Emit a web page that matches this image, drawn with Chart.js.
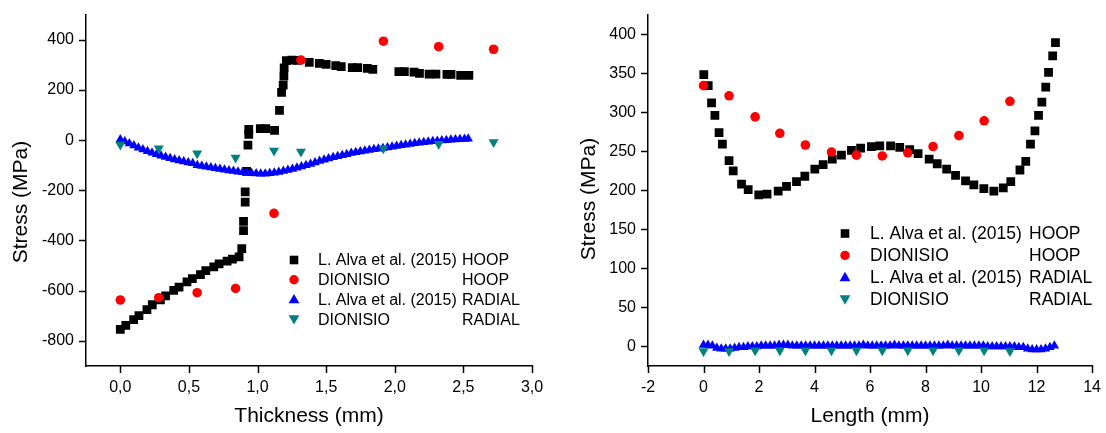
<!DOCTYPE html>
<html>
<head>
<meta charset="utf-8">
<script src="https://cdn.jsdelivr.net/npm/chart.js@4.4.0/dist/chart.umd.min.js"></script>
<style>
    html, body { margin: 0; padding: 0; background: #fff; }
    body { width: 1106px; height: 433px; overflow: hidden; display: flex; }
    canvas { display: block; }
</style>
</head>
<body>
<canvas id="thicknessChart" width="553" height="433"></canvas>
<canvas id="lengthChart" width="553" height="433"></canvas>
<script>
// ---- Thickness (left) ----
const thkHoopAlvaX = [0, 0.04, 0.097, 0.136, 0.194, 0.233, 0.292, 0.33, 0.389, 0.428, 0.486, 0.525, 0.584, 0.623, 0.681, 0.72, 0.778, 0.817, 0.866, 0.885, 0.898, 0.898, 0.91, 0.91, 0.92, 0.93, 0.936, 0.936, 1.02, 1.06, 1.124, 1.16, 1.175, 1.187, 1.192, 1.194, 1.21, 1.25, 1.29, 1.377, 1.45, 1.5, 1.57, 1.61, 1.69, 1.73, 1.8, 1.84, 2.03, 2.07, 2.14, 2.18, 2.25, 2.3, 2.38, 2.41, 2.48, 2.54];
const thkHoopAlvaY = [-754, -738, -715, -699, -675, -656, -637, -621, -599, -586, -565, -552, -536, -520, -505, -493, -482, -474, -465, -432, -361, -324, -247, -206, -125, -20, 23, 43, 46, 46, 39, 118, 190, 219, 255, 288, 317, 319, 318, 310, 306, 302, 297, 293, 289, 289, 286, 282, 273, 273, 271, 266, 263, 263, 262, 262, 258, 258];

const thkDionX = [0, 0.28, 0.56, 0.84, 1.12, 1.316, 1.917, 2.32, 2.72];
const thkHoopDionY = [-637, -628, -608, -591, -292, 319, 394, 372, 362];
const thkRadialDionY = [-18, -33, -53, -70, -42, -46, -33, -15, -8];

const thkRadialAlvaX = [0, 0.033, 0.066, 0.099, 0.132, 0.165, 0.198, 0.231, 0.264, 0.297, 0.33, 0.363, 0.396, 0.429, 0.462, 0.495, 0.528, 0.561, 0.594, 0.627, 0.66, 0.693, 0.726, 0.759, 0.792, 0.825, 0.858, 0.891, 0.924, 0.957, 0.99, 1.023, 1.056, 1.089, 1.122, 1.155, 1.188, 1.221, 1.254, 1.287, 1.32, 1.353, 1.386, 1.419, 1.452, 1.485, 1.518, 1.551, 1.584, 1.617, 1.65, 1.683, 1.716, 1.749, 1.782, 1.815, 1.848, 1.881, 1.914, 1.947, 1.98, 2.013, 2.046, 2.079, 2.112, 2.145, 2.178, 2.211, 2.244, 2.277, 2.31, 2.343, 2.376, 2.409, 2.442, 2.475, 2.508, 2.535];
const thkRadialAlvaY = [2, -6, -14, -22, -30, -37, -44, -50, -56, -62, -67, -72, -77, -81, -85, -89, -92, -100, -103, -106, -109, -112, -115, -118, -121, -123, -126, -128, -130, -132, -133, -134, -134, -132, -130, -127, -123, -119, -115, -110, -105, -100, -95, -89, -83, -78, -73, -68, -64, -60, -56, -51, -48, -45, -42, -39, -36, -34, -32, -29, -26, -24, -21, -19, -16, -13, -11, -9, -7, -5, -4, -2, -1, 1, 2, 3, 4, 5];

// ---- Length (right) ----
const lenHoopAlvaX = [0.01, 0.17, 0.29, 0.41, 0.56, 0.68, 0.92, 1.07, 1.37, 1.61, 1.99, 2.29, 2.69, 2.99, 3.35, 3.65, 4.01, 4.31, 4.64, 4.97, 5.33, 5.66, 6.05, 6.35, 6.74, 7.07, 7.43, 7.73, 8.13, 8.42, 8.76, 9.08, 9.44, 9.74, 10.1, 10.46, 10.8, 11.07, 11.4, 11.61, 11.78, 11.94, 12.07, 12.19, 12.33, 12.43, 12.58, 12.68];
const lenHoopAlvaY = [348, 334, 312, 296, 274, 259, 238, 225, 208, 201, 194, 195, 199, 205, 211, 218, 227, 233, 240, 245, 251, 254, 256, 257, 257, 255, 252, 247, 240, 234, 227, 219, 212, 207, 202, 199, 203, 211, 226, 237, 259, 276, 296, 313, 332, 351, 372, 389];

const lenDionX = [0, 0.92, 1.86, 2.75, 3.67, 4.61, 5.51, 6.44, 7.36, 8.27, 9.2, 10.11, 11.04];
const lenHoopDionY = [334, 321, 294, 273, 258, 249, 245, 244, 248, 256, 270, 289, 314];
const lenRadialDionY = [-6, -6, -5, -5, -5, -5, -5, -5, -5, -5, -5, -5, -6];

const lenRadialAlvaX = [0, 0.16, 0.32, 0.48, 0.64, 0.8, 0.96, 1.12, 1.28, 1.44, 1.6, 1.76, 1.92, 2.08, 2.24, 2.4, 2.56, 2.72, 2.88, 3.04, 3.2, 3.36, 3.52, 3.68, 3.84, 4, 4.16, 4.32, 4.48, 4.64, 4.8, 4.96, 5.12, 5.28, 5.44, 5.6, 5.76, 5.92, 6.08, 6.24, 6.4, 6.56, 6.72, 6.88, 7.04, 7.2, 7.36, 7.52, 7.68, 7.84, 8, 8.16, 8.32, 8.48, 8.64, 8.8, 8.96, 9.12, 9.28, 9.44, 9.6, 9.76, 9.92, 10.08, 10.24, 10.4, 10.56, 10.72, 10.88, 11.04, 11.2, 11.36, 11.52, 11.68, 11.84, 12, 12.16, 12.32, 12.48, 12.64];
const lenRadialAlvaY = [2, 2, 1, -2, -3, -3, -3, -2, -1, -1, 0, 0, 0, 1, 1, 1, 1, 2, 2, 2, 1, 1, 1, 1, 1, 1, 1, 1, 1, 1, 1, 1, 1, 1, 1, 1, 2, 1, 1, 1, 1, 1, 1, 2, 1, 1, 1, 1, 1, 1, 1, 1, 1, 1, 1, 2, 1, 1, 1, 1, 1, 1, 1, 1, 0, 0, 0, 0, 0, 0, 0, -1, -1, -3, -4, -4, -4, -3, -1, 1];

const legendNames = ['L. Alva et al. (2015)', 'DIONISIO', 'L. Alva et al. (2015)', 'DIONISIO'];
const legendKinds = ['HOOP', 'HOOP', 'RADIAL', 'RADIAL'];
const markerColors = ['#000000', '#ff0000', '#0000ff', '#008080'];

const FONT = "'Liberation Sans', Arial, sans-serif";

const toPoints = (xs, ys) => xs.map((x, i) => ({ x, y: ys[i] }));

function drawSymbol(ctx, kind, x, y, color) {
    ctx.fillStyle = color;
    ctx.beginPath();
    if (kind === 0) {
        ctx.rect(x - 4.3, y - 4.3, 8.6, 8.6);
    } else if (kind === 1) {
        ctx.arc(x, y, 4.7, 0, Math.PI * 2);
    } else if (kind === 2) {
        ctx.moveTo(x, y - 5.5); ctx.lineTo(x + 5.4, y + 3.9); ctx.lineTo(x - 5.4, y + 3.9);
    } else {
        ctx.moveTo(x, y + 5.5); ctx.lineTo(x + 5.4, y - 3.9); ctx.lineTo(x - 5.4, y - 3.9);
    }
    ctx.closePath();
    ctx.fill();
}

// ticks (major/minor), axis titles, two-column legend
const decorPlugin = {
    id: 'decor',
    afterDraw(chart, args, o) {
        const ctx = chart.ctx;
        const area = chart.chartArea;
        const xs = chart.scales.x;
        const ys = chart.scales.y;
        ctx.save();
        ctx.strokeStyle = '#000';
        ctx.lineWidth = 1.5;
        xs.ticks.forEach(t => {
            const px = Math.round(xs.getPixelForValue(t.value)) + 0.5;
            const len = (t.label !== null && t.label !== '') ? 7 : 4;
            ctx.beginPath(); ctx.moveTo(px, area.bottom); ctx.lineTo(px, area.bottom + len); ctx.stroke();
        });
        ys.ticks.forEach(t => {
            const py = Math.round(ys.getPixelForValue(t.value)) + 0.5;
            const len = (t.label !== null && t.label !== '') ? 7 : 4;
            ctx.beginPath(); ctx.moveTo(area.left, py); ctx.lineTo(area.left - len, py); ctx.stroke();
        });

        ctx.fillStyle = '#000';
        ctx.font = '21px ' + FONT;
        ctx.textAlign = 'center';
        ctx.textBaseline = 'alphabetic';
        ctx.fillText(o.xTitle, (area.left + area.right) / 2, o.xTitleY);
        ctx.save();
        ctx.translate(o.yTitleX, o.yTitleY);
        ctx.rotate(-Math.PI / 2);
        ctx.fillText(o.yTitle, 0, 0);
        ctx.restore();

        const lg = o.legend;
        ctx.font = lg.size + 'px ' + FONT;
        ctx.textAlign = 'left';
        ctx.textBaseline = 'middle';
        legendNames.forEach((name, i) => {
            const y = lg.y + i * lg.rowH;
            drawSymbol(ctx, i, lg.symX, y, markerColors[i]);
            ctx.fillStyle = '#000';
            ctx.fillText(name, lg.textX, y + 1);
            ctx.fillText(legendKinds[i], lg.col2X, y + 1);
        });
        ctx.restore();
    }
};

function buildDatasets(hoopAlva, hoopDion, radialAlva, radialDion) {
    return [
        { data: hoopAlva, pointStyle: 'rect', pointRadius: 6.2, backgroundColor: markerColors[0], order: 4 },
        { data: hoopDion, pointStyle: 'circle', pointRadius: 4.8, backgroundColor: markerColors[1], order: 3 },
        { data: radialAlva, pointStyle: 'triangle', pointRadius: 5.5, backgroundColor: markerColors[2], order: 2 },
        { data: radialDion, pointStyle: 'triangle', pointRotation: 180, pointRadius: 5.8, backgroundColor: markerColors[3], order: 1 }
    ].map(d => Object.assign(d, { showLine: false, pointBorderWidth: 0, borderWidth: 0, pointHoverRadius: d.pointRadius }));
}

function axisOptions(min, max, step, labelFn, fitFn) {
    return {
        type: 'linear',
        min: min,
        max: max,
        afterFit: fitFn,
        border: { display: true, color: '#000', width: 1.5 },
        grid: { display: true, drawOnChartArea: false, drawTicks: true, tickLength: 7, color: 'rgba(0,0,0,0)' },
        ticks: {
            stepSize: step,
            autoSkip: false,
            maxRotation: 0,
            minRotation: 0,
            padding: 5,
            color: '#000',
            font: { family: FONT, size: 16 },
            callback: labelFn
        }
    };
}

function makeChart(id, datasets, xAxis, yAxis, padRight, padTop, decor) {
    return new Chart(document.getElementById(id), {
        type: 'scatter',
        data: { datasets },
        options: {
            responsive: false,
            animation: false,
            events: [],
            layout: { padding: { left: 0, right: padRight, top: padTop, bottom: 0 } },
            plugins: { legend: { display: false }, tooltip: { enabled: false }, decor: decor },
            scales: { x: xAxis, y: yAxis }
        },
        plugins: [decorPlugin]
    });
}

makeChart('thicknessChart',
    buildDatasets(
        toPoints(thkHoopAlvaX, thkHoopAlvaY),
        toPoints(thkDionX, thkHoopDionY),
        toPoints(thkRadialAlvaX, thkRadialAlvaY),
        toPoints(thkDionX, thkRadialDionY)),
    axisOptions(-0.25, 3.0, 0.25,
        v => (Math.abs(v * 2 - Math.round(v * 2)) < 1e-6 ? v.toFixed(1).replace('.', ',') : null),
        s => { s.height = 67; }),
    axisOptions(-900, 500, 100,
        v => (v % 200 === 0 ? String(v) : null),
        s => { s.width = 86; }),
    21, 8,
    {
        xTitle: 'Thickness (mm)', xTitleY: 422,
        yTitle: 'Stress (MPa)', yTitleX: 27, yTitleY: 202,
        legend: { y: 260, rowH: 19.7, symX: 294, textX: 318, col2X: 462, size: 16 }
    });

makeChart('lengthChart',
    buildDatasets(
        toPoints(lenHoopAlvaX, lenHoopAlvaY),
        toPoints(lenDionX, lenHoopDionY),
        toPoints(lenRadialAlvaX, lenRadialAlvaY),
        toPoints(lenDionX, lenRadialDionY)),
    axisOptions(-2, 14, 1,
        v => (v % 2 === 0 ? String(v) : null),
        s => { s.height = 67; }),
    axisOptions(-25, 425, 25,
        v => (v % 50 === 0 ? String(v) : null),
        s => { s.width = 95; }),
    13, 7,
    {
        xTitle: 'Length (mm)', xTitleY: 422,
        yTitle: 'Stress (MPa)', yTitleX: 42, yTitleY: 199,
        legend: { y: 233.5, rowH: 21.9, symX: 292, textX: 317, col2X: 476, size: 17.5 }
    });
</script>
</body>
</html>
